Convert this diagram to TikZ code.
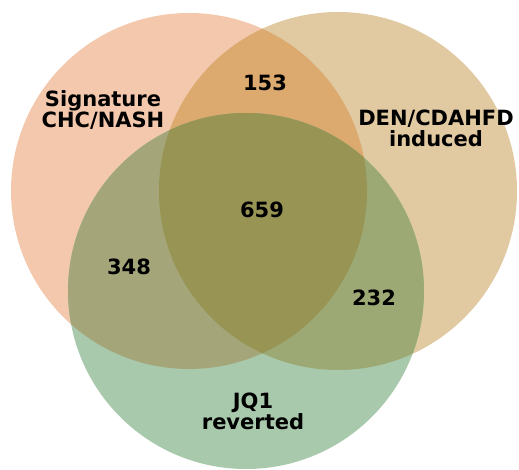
\documentclass[tikz,border=0pt]{standalone}
\usepackage{fontspec}
\setmainfont{DejaVu Sans}
\definecolor{cS}{HTML}{F4C8AC}
\definecolor{cT}{HTML}{E1C9A2}
\definecolor{cG}{HTML}{A9C9AC}
\definecolor{cST}{HTML}{DCA96F}
\definecolor{cSG}{HTML}{A4A67A}
\definecolor{cTG}{HTML}{9CA975}
\definecolor{cSTG}{HTML}{979454}
\begin{document}
\begin{tikzpicture}[x=1pt,y=-1pt,
  lab/.style={font=\fontsize{21}{21}\selectfont\bfseries, inner sep=0pt, anchor=base, align=center, text=black}]
\useasboundingbox (0,0) rectangle (519,470);
\def\cirS{(189,191) circle (178)}
\def\cirT{(338,191) circle (179)}
\def\cirG{(246,291) circle (178)}
% single sets
\fill[cS] \cirS;
\fill[cT] \cirT;
\fill[cG] \cirG;
% pairwise
\begin{scope}\clip \cirS; \fill[cST] \cirT; \end{scope}
\begin{scope}\clip \cirS; \fill[cSG] \cirG; \end{scope}
\begin{scope}\clip \cirT; \fill[cTG] \cirG; \end{scope}
% triple
\begin{scope}\clip \cirS; \clip \cirT; \fill[cSTG] \cirG; \end{scope}
% labels
\node[lab] (lS) at (103,128) {Signature\\CHC/NASH};
\node[lab] (lT) at (436,147) {DEN/CDAHFD\\induced};
\node[lab] (lG) at (253,429) {JQ1\\reverted};
\node[lab] (n153) at (265,91) {153};
\node[lab] (n659) at (262,218) {659};
\node[lab] (n348) at (129,275) {348};
\node[lab] (n232) at (374,305) {232};
\end{tikzpicture}
\end{document}
